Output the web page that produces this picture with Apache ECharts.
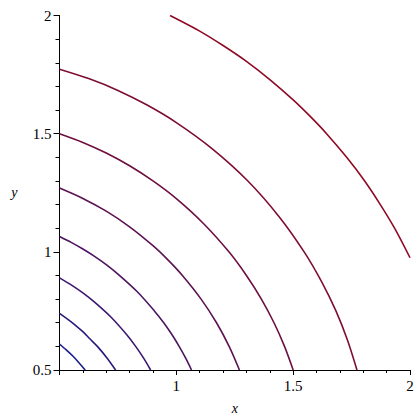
<!DOCTYPE html>
<html>
<head>
<meta charset="utf-8">
<script src="https://cdn.jsdelivr.net/npm/echarts@6/dist/echarts.min.js"></script>
<style>
  html, body { margin: 0; padding: 0; background: #fff; }
  #chart { width: 420px; height: 420px; }
</style>
</head>
<body>
<div id="chart"></div>
<script>
// contour levels, innermost to outermost, points as [x, y]
var level1 = [[0.5, 0.61], [0.53, 0.584], [0.558, 0.558], [0.584, 0.53], [0.61, 0.5]];
var level2 = [[0.5, 0.74], [0.55, 0.704], [0.6, 0.662], [0.631, 0.631], [0.662, 0.6], [0.704, 0.55], [0.74, 0.5]];
var level3 = [[0.5, 0.89], [0.55, 0.86], [0.6, 0.826], [0.65, 0.787], [0.722, 0.722], [0.787, 0.65], [0.826, 0.6], [0.86, 0.55], [0.89, 0.5]];
var level4 = [[0.5, 1.065], [0.55, 1.04], [0.6, 1.012], [0.65, 0.981], [0.7, 0.946], [0.75, 0.906], [0.832, 0.832],
  [0.906, 0.75], [0.946, 0.7], [0.981, 0.65], [1.012, 0.6], [1.04, 0.55], [1.065, 0.5]];
var level5 = [[0.5, 1.27], [0.6, 1.226], [0.7, 1.172], [0.8, 1.106], [0.9, 1.026], [0.965, 0.965],
  [1.026, 0.9], [1.106, 0.8], [1.172, 0.7], [1.226, 0.6], [1.27, 0.5]];
var level6 = [[0.5, 1.5], [0.6, 1.463], [0.7, 1.418], [0.8, 1.364], [0.9, 1.3], [1.0, 1.225], [1.118, 1.118],
  [1.225, 1.0], [1.3, 0.9], [1.364, 0.8], [1.418, 0.7], [1.463, 0.6], [1.5, 0.5]];
var level7 = [[0.5, 1.773], [0.625, 1.733], [0.75, 1.683], [0.875, 1.621], [1.0, 1.547], [1.15, 1.439], [1.303, 1.303],
  [1.439, 1.15], [1.547, 1.0], [1.621, 0.875], [1.683, 0.75], [1.733, 0.625], [1.773, 0.5]];
var level8 = [[0.973, 2], [1.1, 1.934], [1.2, 1.873], [1.3, 1.806], [1.4, 1.729], [1.5, 1.643], [1.573, 1.573],
  [1.643, 1.5], [1.729, 1.4], [1.806, 1.3], [1.873, 1.2], [1.934, 1.1], [2, 0.975]];

var levels = [level1, level2, level3, level4, level5, level6, level7, level8];
var levelColors = ["#1c1c8e", "#2c197f", "#3d1770", "#4d1461", "#5d1251", "#6d0f42", "#7e0d33", "#8e0a24"];

var xLabels = ["1", "1.5", "2"];
var yLabels = ["0.5", "1", "1.5", "2"];

var serif = "Liberation Serif";

var chart = echarts.init(document.getElementById("chart"), null, { renderer: "svg" });

function labelFor(list) {
  return function(value) {
    var s = String(Math.round(value * 10) / 10);
    return list.indexOf(s) >= 0 ? s : "";
  };
}

chart.setOption({
  animation: false,
  textStyle: { fontFamily: serif },
  grid: { left: 59.5, right: 10, top: 15.5, bottom: 46 },
  xAxis: {
    type: "value",
    min: 0.5,
    max: 2,
    interval: 0.5,
    name: "x",
    nameLocation: "middle",
    nameGap: 31,
    nameTextStyle: { fontFamily: serif, fontStyle: "italic", fontSize: 14, color: "#000" },
    axisLine: { show: true, onZero: false, lineStyle: { color: "#000", width: 1 } },
    axisTick: { show: true, length: 5, lineStyle: { color: "#000" } },
    minorTick: { show: true, splitNumber: 5, length: 3, lineStyle: { color: "#000" } },
    axisLabel: { margin: 8, formatter: labelFor(xLabels), fontFamily: serif, fontSize: 15, color: "#000" },
    splitLine: { show: false }
  },
  yAxis: {
    type: "value",
    min: 0.5,
    max: 2,
    interval: 0.5,
    name: "y",
    nameLocation: "middle",
    nameRotate: 0,
    nameGap: 42,
    nameTextStyle: { fontFamily: serif, fontStyle: "italic", fontSize: 14, color: "#000" },
    axisLine: { show: true, onZero: false, lineStyle: { color: "#000", width: 1 } },
    axisTick: { show: true, length: 6, lineStyle: { color: "#000" } },
    minorTick: { show: true, splitNumber: 5, length: 4, lineStyle: { color: "#000" } },
    axisLabel: { margin: 8, formatter: labelFor(yLabels), fontFamily: serif, fontSize: 15, color: "#000" },
    splitLine: { show: false }
  },
  series: levels.map(function(pts, i) {
    return {
      type: "line",
      data: pts,
      smooth: 0.3,
      showSymbol: false,
      silent: true,
      lineStyle: { color: levelColors[i], width: 1.6 }
    };
  })
});
</script>
</body>
</html>
